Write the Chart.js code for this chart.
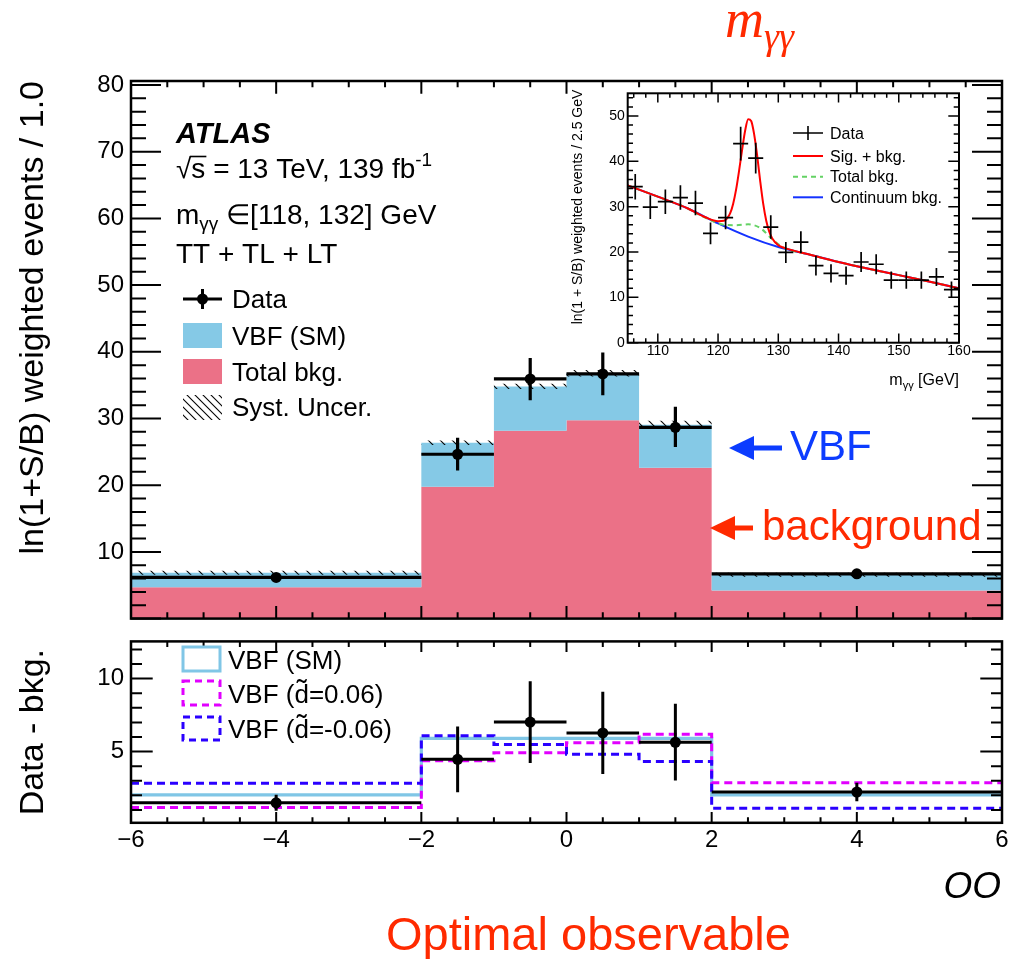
<!DOCTYPE html>
<html>
<head>
<meta charset="utf-8">
<script src="https://cdn.jsdelivr.net/npm/chart.js@4.4.0/dist/chart.umd.min.js"></script>
<style>
html,body{margin:0;padding:0;background:#fff;}
#wrap{position:relative;width:1015px;height:959px;overflow:hidden;background:#fff;}
canvas{position:absolute;display:block;}
</style>
</head>
<body>
<div id="wrap">
<canvas id="main" width="1015" height="640" style="left:0;top:0;width:1015px;height:640px"></canvas>
<canvas id="ratio" width="1015" height="339" style="left:0;top:620px;width:1015px;height:339px"></canvas>
<canvas id="inset" width="420" height="320" style="left:560px;top:80px;width:420px;height:320px"></canvas>
</div>
<script>
// ================= DATA =================
const binEdges      = [-6, -2, -1, 0, 1, 2, 6];
const binCenters    = [-4, -1.5, -0.5, 0.5, 1.5, 4];
const binHalfWidths = [2, 0.5, 0.5, 0.5, 0.5, 2];

// main panel
const totalBkg    = [4.70, 19.78, 28.18, 29.75, 22.63, 4.21];
const vbfSM       = [2.17, 6.58, 6.63, 7.03, 6.43, 2.36];
const systUnc     = [0.3, 0.35, 0.4, 0.5, 0.6, 0.3];
const dataEvents  = [6.17, 24.64, 35.94, 36.68, 28.68, 6.72];
const dataErrUp   = [0.5, 2.46, 3.14, 3.20, 3.09, 0.5];
const dataErrDown = [0.5, 2.45, 3.20, 3.20, 2.95, 0.5];

// lower panel (Data - bkg.)
const diffData  = [1.49, 4.47, 7.02, 6.28, 5.64, 2.23];
const diffErr   = [0.55, 2.25, 2.80, 2.82, 2.63, 0.63];
const diffSM    = [2.04, 5.91, 5.91, 5.91, 5.91, 2.04];
const diffPlus  = [1.17, 4.38, 4.92, 5.60, 6.19, 2.87];   // d~ = 0.06
const diffMinus = [2.83, 6.08, 5.49, 4.81, 4.32, 1.12];   // d~ = -0.06

// inset (m_yy)
const massCenters = [106.25,108.75,111.25,113.75,116.25,118.75,121.25,123.75,126.25,128.75,131.25,
                     133.75,136.25,138.75,141.25,143.75,146.25,148.75,151.25,153.75,156.25,158.75];
const massData = [34.4,29.9,31.1,32.0,30.8,24.1,27.6,43.9,40.7,25.5,19.9,
                  22.2,17.0,15.3,14.8,17.8,17.3,13.8,13.8,13.8,14.5,11.7];
const massErr  = [2.8,2.6,2.7,2.7,2.7,2.4,2.6,3.7,3.4,2.6,2.3,
                  2.4,2.2,2.0,2.0,2.2,2.2,1.9,1.9,1.9,2.0,1.8];
const massHalfBin = [1.25,1.25,1.25,1.25,1.25,1.25,1.25,1.25,1.25,1.25,1.25,
                     1.25,1.25,1.25,1.25,1.25,1.25,1.25,1.25,1.25,1.25,1.25];
const contX = [105,110,115,120,125,130,135,140,145,150,155,160];
const contY = [34.7,32.2,29.6,26.3,23.4,21.1,19.5,17.8,16.3,14.9,13.5,12.0];
const totX  = [105,110,115,117,119,121,123,125,127,129,131,135,140,145,150,155,160];
const totY  = [34.7,32.2,29.6,28.1,26.9,26.0,25.9,26.1,25.3,22.8,20.9,19.5,17.8,16.3,14.9,13.5,12.0];
const sbX = [105,110,115,118,120,121,121.5,122,122.5,123,123.5,124,124.5,125,125.5,126,126.5,127,127.5,128,128.5,129,130,131,135,140,145,150,155,160];
const sbY = [34.7,32.2,29.6,27.6,26.8,26.9,27.4,28.5,30.6,33.8,38.0,42.6,46.8,49.3,48.9,45.9,41.2,35.6,30.6,26.9,24.5,23.0,21.5,20.9,19.5,17.8,16.3,14.9,13.5,12.0];

// tick labels
const mainYTicks  = [10, 20, 30, 40, 50, 60, 70, 80];
const ratioXTicks = [-6, -4, -2, 0, 2, 4, 6];
const ratioYTicks = [5, 10];
const insetXTicks = [110, 120, 130, 140, 150, 160];
const insetYTicks = [0, 10, 20, 30, 40, 50];

// ================= STYLE =================
const FONT  = "'Liberation Sans', Arial, Helvetica, sans-serif";
const SERIF = "'Liberation Serif', 'Times New Roman', serif";
const PINK = 'rgb(235,113,135)';
const SKY  = 'rgb(133,201,230)';
const RED  = 'rgb(255,42,0)';
const VBFBLUE = 'rgb(12,60,255)';
Chart.defaults.font.family = FONT;
Chart.defaults.color = '#000';

// ================= HELPERS =================
function hist(values) {
  const out = [];
  values.forEach((v, i) => { out.push({x: binEdges[i], y: v}); out.push({x: binEdges[i + 1], y: v}); });
  return out;
}
function pts(xs, ys) { return xs.map((x, i) => ({x: x, y: ys[i]})); }
function fontStr(p) { return (p.style || '') + ' ' + (p.weight || '') + ' ' + p.size + 'px ' + (p.family || FONT); }
function rich(ctx, x, y, parts, align) {
  let w = 0;
  parts.forEach(p => { ctx.font = fontStr(p); p.w = ctx.measureText(p.t).width; w += p.w; });
  let cx = align === 'right' ? x - w : x;
  ctx.textAlign = 'left';
  parts.forEach(p => { p.x = cx; ctx.font = fontStr(p); ctx.fillText(p.t, cx, y + (p.dy || 0)); cx += p.w; });
  return parts;
}
function makeHatch(period, lw) {
  const c = document.createElement('canvas'); c.width = period; c.height = period;
  const g = c.getContext('2d');
  g.strokeStyle = '#000'; g.lineWidth = lw;
  g.beginPath(); g.moveTo(-2, -2); g.lineTo(period + 2, period + 2); g.stroke();
  g.beginPath(); g.moveTo(-2, period - 2); g.lineTo(2, period + 2); g.stroke();
  g.beginPath(); g.moveTo(period - 2, -2); g.lineTo(period + 2, 2); g.stroke();
  return document.getElementById('main').getContext('2d').createPattern(c, 'repeat');
}
const hatchBand = makeHatch(12, 1.1);
const hatchLegend = makeHatch(8, 1.1);

// ROOT-like frame with inward ticks
function makeFrame(cfg) {
  return {
    id: 'rootFrame',
    afterDraw(chart) {
      const {ctx, chartArea: a} = chart;
      const xs = chart.scales.x, ys = chart.scales.y;
      ctx.save();
      ctx.strokeStyle = '#000';
      ctx.lineWidth = cfg.tickWidth;
      const ticks = (scale, c, horiz) => {
        const start = Math.ceil((scale.min - 1e-9) / c.minor);
        for (let k = start; k * c.minor <= scale.max + 1e-9; k++) {
          const v = k * c.minor;
          const r = v / c.major;
          const major = Math.abs(r - Math.round(r)) < 1e-6;
          const len = major ? c.majLen : c.minLen;
          const p = scale.getPixelForValue(v);
          ctx.beginPath();
          if (horiz) {
            ctx.moveTo(p, a.bottom); ctx.lineTo(p, a.bottom - len);
            ctx.moveTo(p, a.top); ctx.lineTo(p, a.top + len);
          } else {
            ctx.moveTo(a.left, p); ctx.lineTo(a.left + len, p);
            ctx.moveTo(a.right, p); ctx.lineTo(a.right - len, p);
          }
          ctx.stroke();
        }
      };
      ticks(xs, cfg.x, true);
      ticks(ys, cfg.y, false);
      ctx.lineWidth = cfg.frameWidth;
      ctx.strokeRect(a.left, a.top, a.right - a.left, a.bottom - a.top);
      ctx.restore();
    }
  };
}

// error bars from dataset arrays
const errorBars = {
  id: 'errorBars',
  afterDatasetsDraw(chart) {
    const {ctx, chartArea: a} = chart;
    const xs = chart.scales.x, ys = chart.scales.y;
    chart.data.datasets.forEach(ds => {
      if (!ds.errX) return;
      ctx.save();
      ctx.beginPath(); ctx.rect(a.left, a.top, a.right - a.left, a.bottom - a.top); ctx.clip();
      ctx.strokeStyle = '#000'; ctx.lineWidth = ds.errWidth;
      ds.data.forEach((pt, j) => {
        const px = xs.getPixelForValue(pt.x), py = ys.getPixelForValue(pt.y);
        ctx.beginPath();
        ctx.moveTo(xs.getPixelForValue(pt.x - ds.errX[j]), py);
        ctx.lineTo(xs.getPixelForValue(pt.x + ds.errX[j]), py);
        ctx.moveTo(px, ys.getPixelForValue(pt.y - ds.errDown[j]));
        ctx.lineTo(px, ys.getPixelForValue(pt.y + ds.errUp[j]));
        ctx.stroke();
      });
      ctx.restore();
    });
  }
};

function arrow(ctx, tipX, y, tailX, color) {
  ctx.fillStyle = color; ctx.strokeStyle = color; ctx.lineWidth = 5;
  ctx.beginPath(); ctx.moveTo(tipX + 20, y); ctx.lineTo(tailX, y); ctx.stroke();
  ctx.beginPath(); ctx.moveTo(tipX, y); ctx.lineTo(tipX + 25, y - 12); ctx.lineTo(tipX + 25, y + 12); ctx.closePath(); ctx.fill();
}

const common = {responsive: false, animation: false, events: [],
  plugins: {legend: {display: false}, tooltip: {enabled: false}}};

// ================= MAIN PANEL =================
const stackTop = totalBkg.map((b, i) => b + vbfSM[i]);
const noLine = 'rgba(0,0,0,0)';

const mainDeco = {
  id: 'mainDeco',
  afterDraw(chart) {
    const ctx = chart.ctx;
    ctx.save();
    ctx.fillStyle = '#000'; ctx.textBaseline = 'alphabetic';
    ctx.font = 'italic bold 29px ' + FONT; ctx.textAlign = 'left';
    ctx.fillText('ATLAS', 176, 143);
    const sq = rich(ctx, 176, 178, [{t: '\u221A', size: 28}, {t: 's = 13 TeV, 139 fb', size: 28}, {t: '-1', size: 19, dy: -12}]);
    // overbar of the square root over "s"
    ctx.font = '28px ' + FONT;
    const ws = ctx.measureText('s').width;
    ctx.strokeStyle = '#000'; ctx.lineWidth = 1.6;
    ctx.beginPath(); ctx.moveTo(sq[1].x - 1.5, 178 - 21.5); ctx.lineTo(sq[1].x + ws + 1, 178 - 21.5); ctx.stroke();
    rich(ctx, 176, 224, [{t: 'm', size: 28}, {t: '\u03B3\u03B3', size: 19, dy: 6}, {t: ' \u2208[118, 132] GeV', size: 28}]);
    ctx.font = '28px ' + FONT; ctx.fillText('TT + TL + LT', 176, 263);

    // legend
    ctx.strokeStyle = '#000'; ctx.lineWidth = 3;
    ctx.beginPath(); ctx.moveTo(183, 299); ctx.lineTo(222, 299); ctx.moveTo(202.5, 289); ctx.lineTo(202.5, 309); ctx.stroke();
    ctx.beginPath(); ctx.arc(202.5, 299, 5.5, 0, Math.PI * 2); ctx.fill();
    ctx.fillStyle = SKY; ctx.fillRect(183, 323, 39, 25);
    ctx.fillStyle = PINK; ctx.fillRect(183, 359, 39, 25);
    ctx.fillStyle = hatchLegend; ctx.fillRect(183, 395, 39, 25);
    ctx.fillStyle = '#000'; ctx.font = '26px ' + FONT;
    ctx.fillText('Data', 232, 308);
    ctx.fillText('VBF (SM)', 232, 345);
    ctx.fillText('Total bkg.', 232, 381);
    ctx.fillText('Syst. Uncer.', 232, 416);

    // annotations
    ctx.fillStyle = RED;
    rich(ctx, 725, 37, [{t: 'm', size: 54, style: 'italic', family: SERIF},
                        {t: '\u03B3\u03B3', size: 38, style: 'italic', family: SERIF, dy: 12}]);
    arrow(ctx, 729, 448, 782, VBFBLUE);
    ctx.fillStyle = VBFBLUE; ctx.font = '42px ' + FONT; ctx.textAlign = 'left';
    ctx.fillText('VBF', 790, 460);
    arrow(ctx, 710, 528, 753, RED);
    ctx.fillStyle = RED; ctx.font = '42px ' + FONT;
    ctx.fillText('background', 762, 540);
    ctx.restore();
  }
};

new Chart(document.getElementById('main'), {
  type: 'line',
  data: {datasets: [
    {label: 'Data', data: pts(binCenters, dataEvents), showLine: false, pointRadius: 5.5,
     pointBackgroundColor: '#000', pointBorderColor: '#000', pointBorderWidth: 0,
     errX: binHalfWidths, errUp: dataErrUp, errDown: dataErrDown, errWidth: 3.2, order: 0},
    {label: 'Syst. Uncer.', data: hist(stackTop.map((v, i) => v + systUnc[i])), borderColor: noLine, borderWidth: 0,
     pointRadius: 0, fill: 2, backgroundColor: hatchBand, order: 1},
    {label: 'syst-low', data: hist(stackTop.map((v, i) => v - systUnc[i])), borderColor: noLine, borderWidth: 0,
     pointRadius: 0, fill: false, order: 2},
    {label: 'VBF (SM)', data: hist(stackTop), borderColor: noLine, borderWidth: 0, pointRadius: 0,
     fill: 4, backgroundColor: SKY, order: 3},
    {label: 'Total bkg.', data: hist(totalBkg), borderColor: noLine, borderWidth: 0, pointRadius: 0,
     fill: 'origin', backgroundColor: PINK, order: 4}
  ]},
  options: Object.assign({}, common, {
    layout: {padding: {left: 0, top: 81, right: 13, bottom: 12.1}},
    scales: {
      x: {type: 'linear', min: -6, max: 6, display: false},
      y: {type: 'linear', min: 0, max: 80.6,
          afterFit(s) { s.width = 131; },
          afterBuildTicks(s) { s.ticks = mainYTicks.map(v => ({value: v})); },
          grid: {display: false, drawTicks: false}, border: {display: false},
          ticks: {font: {size: 24}, color: '#000', padding: 7},
          title: {display: true, text: 'ln(1+S/B) weighted events / 1.0', color: '#000',
                  font: {size: 34}, align: 'end', padding: {top: 13, bottom: 0}}}
    }
  }),
  plugins: [errorBars, makeFrame({tickWidth: 2, frameWidth: 2.5,
    x: {major: 2, minor: 0.5, majLen: 12.7, minLen: 6.3},
    y: {major: 10, minor: 2, majLen: 30, minLen: 15}}), mainDeco]
});

// ================= RATIO PANEL =================
const ratioDeco = {
  id: 'ratioDeco',
  afterDraw(chart) {
    const ctx = chart.ctx;
    ctx.save();
    ctx.textBaseline = 'alphabetic';
    ctx.fillStyle = '#000'; ctx.font = 'italic 37px ' + FONT; ctx.textAlign = 'right';
    ctx.fillText('OO', 1001, 278);
    ctx.fillStyle = RED; ctx.font = '47px ' + FONT; ctx.textAlign = 'left';
    ctx.fillText('Optimal observable', 386, 330);
    // legend
    ctx.lineWidth = 3;
    ctx.strokeStyle = 'rgb(128,198,230)'; ctx.setLineDash([]);
    ctx.strokeRect(183, 27, 37, 24);
    ctx.strokeStyle = 'rgb(225,0,255)'; ctx.setLineDash([7, 5]);
    ctx.strokeRect(183, 61, 37, 24);
    ctx.strokeStyle = 'rgb(42,0,255)';
    ctx.strokeRect(183, 97, 37, 23);
    ctx.setLineDash([]);
    ctx.fillStyle = '#000'; ctx.font = '26px ' + FONT;
    ctx.fillText('VBF (SM)', 228, 48.5);
    const lab = (y, rest) => {
      ctx.font = '26px ' + FONT;
      const w0 = ctx.measureText('VBF (').width;
      const wd = ctx.measureText('d').width;
      ctx.fillText('VBF (', 228, y);
      ctx.fillText('d', 228 + w0, y);
      ctx.fillText(rest, 228 + w0 + wd, y);
      ctx.font = '30px ' + FONT; ctx.textAlign = 'center';
      ctx.fillText('\u02DC', 228 + w0 + wd / 2, y - 3);
      ctx.textAlign = 'left';
    };
    lab(82.5, '=0.06)');
    lab(118, '=-0.06)');
    ctx.restore();
  }
};

new Chart(document.getElementById('ratio'), {
  type: 'line',
  data: {datasets: [
    {label: 'Data - bkg.', data: pts(binCenters, diffData), showLine: false, pointRadius: 5.5,
     pointBackgroundColor: '#000', pointBorderColor: '#000', pointBorderWidth: 0,
     errX: binHalfWidths, errUp: diffErr, errDown: diffErr, errWidth: 3, order: 0},
    {label: 'VBF (d=-0.06)', data: hist(diffMinus), borderColor: 'rgb(42,0,255)', borderWidth: 3,
     borderDash: [8, 5], pointRadius: 0, fill: false, order: 1},
    {label: 'VBF (d=0.06)', data: hist(diffPlus), borderColor: 'rgb(225,0,255)', borderWidth: 3,
     borderDash: [8, 5], pointRadius: 0, fill: false, order: 2},
    {label: 'VBF (SM)', data: hist(diffSM), borderColor: 'rgb(128,198,230)', borderWidth: 3.2,
     pointRadius: 0, fill: false, order: 3}
  ]},
  options: Object.assign({}, common, {
    layout: {padding: {left: 0, top: 7.9, right: 13, bottom: 0}},
    scales: {
      x: {type: 'linear', min: -6, max: 6,
          afterFit(s) { s.height = 339 - 202.8; },
          afterBuildTicks(s) { s.ticks = ratioXTicks.map(v => ({value: v})); },
          grid: {display: false, drawTicks: false}, border: {display: false},
          ticks: {font: {size: 24}, color: '#000', padding: 3, maxRotation: 0, autoSkip: false,
                  callback: v => String(v).replace('-', '\u2212')}},
      y: {type: 'linear', min: 0.12, max: 12.55,
          afterFit(s) { s.width = 131; },
          afterBuildTicks(s) { s.ticks = ratioYTicks.map(v => ({value: v})); },
          grid: {display: false, drawTicks: false}, border: {display: false},
          ticks: {font: {size: 24}, color: '#000', padding: 7},
          title: {display: true, text: 'Data - bkg.', color: '#000', font: {size: 34},
                  align: 'center', padding: {top: 13, bottom: 0}}}
    }
  }),
  plugins: [errorBars, makeFrame({tickWidth: 2, frameWidth: 2.5,
    x: {major: 2, minor: 0.5, majLen: 10.7, minLen: 5.5},
    y: {major: 5, minor: 1, majLen: 21.7, minLen: 11}}), ratioDeco]
});

// ================= INSET =================
const insetDeco = {
  id: 'insetDeco',
  afterDraw(chart) {
    const ctx = chart.ctx;
    ctx.save();
    ctx.fillStyle = '#000';
    ctx.save();
    ctx.translate(18, 127); ctx.rotate(-Math.PI / 2);
    ctx.font = '14px ' + FONT; ctx.textAlign = 'center'; ctx.textBaseline = 'middle';
    ctx.fillText('ln(1 + S/B) weighted events / 2.5 GeV', 0, 0);
    ctx.restore();
    ctx.textBaseline = 'alphabetic';
    rich(ctx, 399, 305, [{t: 'm', size: 16}, {t: '\u03B3\u03B3', size: 11, dy: 4}, {t: ' [GeV]', size: 16}], 'right');
    // legend
    ctx.strokeStyle = '#000'; ctx.lineWidth = 1.6;
    ctx.beginPath(); ctx.moveTo(233, 53); ctx.lineTo(263, 53); ctx.moveTo(248, 46); ctx.lineTo(248, 60); ctx.stroke();
    ctx.lineWidth = 2;
    ctx.strokeStyle = '#ff0000'; ctx.beginPath(); ctx.moveTo(233, 76); ctx.lineTo(263, 76); ctx.stroke();
    ctx.strokeStyle = 'rgb(100,210,100)'; ctx.setLineDash([5, 4]);
    ctx.beginPath(); ctx.moveTo(233, 96.7); ctx.lineTo(263, 96.7); ctx.stroke();
    ctx.setLineDash([]);
    ctx.strokeStyle = 'rgb(20,50,255)'; ctx.beginPath(); ctx.moveTo(233, 117.3); ctx.lineTo(263, 117.3); ctx.stroke();
    ctx.font = '16px ' + FONT; ctx.textAlign = 'left';
    ctx.fillText('Data', 270, 58.7);
    ctx.fillText('Sig. + bkg.', 270, 81.7);
    ctx.fillText('Total bkg.', 270, 102.4);
    ctx.fillText('Continuum bkg.', 270, 123);
    ctx.restore();
  }
};

new Chart(document.getElementById('inset'), {
  type: 'line',
  data: {datasets: [
    {label: 'Data', data: pts(massCenters, massData), showLine: false, pointRadius: 0,
     errX: massHalfBin, errUp: massErr, errDown: massErr, errWidth: 1.7, order: 0},
    {label: 'Sig. + bkg.', data: pts(sbX, sbY), borderColor: '#ff0000', borderWidth: 2, pointRadius: 0,
     cubicInterpolationMode: 'monotone', fill: false, order: 1},
    {label: 'Total bkg.', data: pts(totX, totY), borderColor: 'rgb(100,210,100)', borderWidth: 2,
     borderDash: [5, 4], pointRadius: 0, cubicInterpolationMode: 'monotone', fill: false, order: 2},
    {label: 'Continuum bkg.', data: pts(contX, contY), borderColor: 'rgb(20,50,255)', borderWidth: 2,
     pointRadius: 0, cubicInterpolationMode: 'monotone', fill: false, order: 3}
  ]},
  options: Object.assign({}, common, {
    layout: {padding: {left: 0, top: 13.3, right: 21, bottom: 0}},
    scales: {
      x: {type: 'linear', min: 105, max: 160,
          afterFit(s) { s.height = 57.3; },
          afterBuildTicks(s) { s.ticks = insetXTicks.map(v => ({value: v})); },
          grid: {display: false, drawTicks: false}, border: {display: false},
          ticks: {font: {size: 14}, color: '#000', padding: 0, maxRotation: 0, autoSkip: false}},
      y: {type: 'linear', min: 0, max: 55,
          afterFit(s) { s.width = 67.7; },
          afterBuildTicks(s) { s.ticks = insetYTicks.map(v => ({value: v})); },
          grid: {display: false, drawTicks: false}, border: {display: false},
          ticks: {font: {size: 14}, color: '#000', padding: 3}}
    }
  }),
  plugins: [errorBars, makeFrame({tickWidth: 1.5, frameWidth: 2,
    x: {major: 10, minor: 2, majLen: 9.3, minLen: 4.5},
    y: {major: 10, minor: 2, majLen: 10.7, minLen: 5.3}}), insetDeco]
});
</script>
</body>
</html>
